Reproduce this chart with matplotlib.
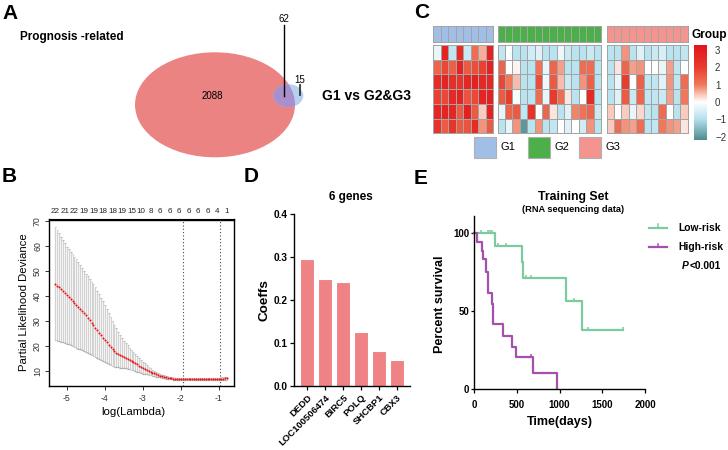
import numpy as np
import matplotlib
matplotlib.use('Agg')
import matplotlib.pyplot as plt
from matplotlib.patches import Ellipse, Rectangle
from matplotlib.colors import LinearSegmentedColormap, Normalize, ListedColormap
from matplotlib.path import Path
import matplotlib.cm as cm

plt.rcParams['font.family'] = ['Liberation Sans', 'DejaVu Sans']

# ---------------- data ----------------
# Panel A (Venn)
venn_set_names = ['Prognosis -related', 'G1 vs G2&G3']
venn_values = [2088, 62, 15]   # only prognosis, overlap, only G1 vs G2&G3

# Panel C (heatmap, 6 genes x samples per group)
group_names = ['G1', 'G2', 'G3']
group_colors = ['#a0bee6', '#4daf4a', '#f4948f']
g1_expr = [
    [-0.3, 2.8, -0.8, 2.5, -0.7, 1.2, 0.6, 2.8],
    [1.3, 1.8, 1.4, 2.8, 1.5, 1.7, 1.9, 2.8],
    [2.5, 2.8, 2.4, 2.3, 2.7, 2.9, 2.6, 2.7],
    [1.9, 1.8, 2.6, 2.8, 1.6, 1.8, 2.8, 2.9],
    [2.7, 2.8, 2.7, 1.5, 2.9, 1.5, 0.4, 2.8],
    [2.3, 1.5, 2.2, 1.5, 1.6, 2.5, 0.8, 1.5],
]
g2_expr = [
    [-0.8, 0.0, -0.9, -0.9, -0.6, -0.4, -0.9, -0.9, -0.2, -0.7, -0.9, -0.9, -0.7, -0.9],
    [1.3, 0.0, 0.1, -0.9, -0.9, 1.1, -0.3, 1.3, 0.7, -0.9, -0.9, 1.2, 1.2, -0.9],
    [1.8, 1.0, 0.5, -0.9, -0.9, 1.7, -0.2, 1.5, 0.5, -0.7, -0.9, 0.8, 1.4, -0.9],
    [1.5, 2.0, -0.1, -0.9, -0.9, 1.2, -0.3, 2.1, 1.2, 0.2, -0.9, 0.0, 2.6, -0.9],
    [-0.3, 1.3, 1.5, -0.8, 2.3, 0.0, 1.3, 0.2, -0.9, -0.4, 0.9, 1.1, 1.3, -0.7],
    [-0.9, -0.3, 0.8, -2.0, -0.9, 0.8, -0.9, -0.8, 0.0, -0.4, 0.0, -0.6, 0.8, -0.9],
]
g3_expr = [
    [-0.9, -0.9, 0.8, -0.9, -0.4, -0.9, -0.7, -0.5, -0.9, -0.9, -0.8],
    [-0.9, 0.2, 1.3, 0.7, 0.8, 0.0, 0.0, -0.3, 0.7, -0.8, 0.0],
    [-0.9, -0.3, 2.0, 0.0, 1.4, -0.8, -0.8, -0.4, 0.8, -0.8, 1.2],
    [-0.9, -0.4, 1.5, -0.7, 1.3, -0.8, -0.8, -0.7, 0.7, -0.9, 1.0],
    [0.4, 0.0, 0.4, -0.3, 0.3, -0.8, -0.9, 1.2, 0.0, -0.9, 0.4],
    [0.4, 1.2, 0.8, 0.7, 1.2, -0.9, -0.8, 1.0, 0.8, 0.7, 0.2],
]
colorbar_ticks = [-2, -1, 0, 1, 2, 3]

# Panel B (LASSO cross-validation)
log_lambda = [-5.30, -5.25, -5.20, -5.15, -5.10, -5.05, -5.00, -4.95, -4.90, -4.85,
              -4.80, -4.75, -4.70, -4.65, -4.60, -4.55, -4.50, -4.45, -4.40, -4.35,
              -4.30, -4.25, -4.20, -4.15, -4.10, -4.05, -4.00, -3.95, -3.90, -3.85,
              -3.80, -3.75, -3.70, -3.65, -3.60, -3.55, -3.50, -3.45, -3.40, -3.35,
              -3.30, -3.25, -3.20, -3.15, -3.10, -3.05, -3.00, -2.95, -2.90, -2.85,
              -2.80, -2.75, -2.70, -2.65, -2.60, -2.55, -2.50, -2.45, -2.40, -2.35,
              -2.30, -2.25, -2.20, -2.15, -2.10, -2.05, -2.00, -1.95, -1.90, -1.85,
              -1.80, -1.75, -1.70, -1.65, -1.60, -1.55, -1.50, -1.45, -1.40, -1.35,
              -1.30, -1.25, -1.20, -1.15, -1.10, -1.05, -1.00, -0.95, -0.90, -0.85,
              -0.80]
cv_mean = [45.0, 44.2, 43.5, 42.7, 42.0, 41.2, 40.4, 39.6, 38.8, 38.0,
           37.2, 36.4, 35.6, 34.8, 34.0, 33.2, 32.4, 31.4, 30.4, 29.4,
           28.4, 27.4, 26.4, 25.4, 24.4, 23.4, 22.4, 21.5, 20.6, 19.7,
           18.8, 18.0, 17.4, 16.9, 16.4, 16.0, 15.7, 15.3, 14.9, 14.5,
           14.1, 13.7, 13.2, 12.7, 12.2, 11.8, 11.3, 10.9, 10.5, 10.1,
           9.7, 9.4, 9.1, 8.8, 8.5, 8.2, 7.9, 7.7, 7.5, 7.35,
           7.2, 7.1, 7.0, 6.95, 6.9, 6.85, 6.8, 6.8, 6.75, 6.75,
           6.7, 6.7, 6.7, 6.7, 6.7, 6.7, 6.7, 6.7, 6.75, 6.75,
           6.8, 6.8, 6.8, 6.85, 6.85, 6.9, 6.9, 6.95, 7.0, 7.1,
           7.2]
cv_upper = [67.7, 66.3, 65.0, 63.7, 62.4, 61.0, 59.7, 58.7, 57.7, 56.7,
            55.7, 54.7, 53.7, 52.5, 51.3, 50.1, 49.0, 48.0, 46.9, 45.8,
            44.8, 43.7, 42.2, 40.8, 39.3, 37.9, 36.4, 34.8, 33.2, 31.6,
            30.0, 28.4, 27.1, 25.8, 24.6, 23.3, 22.0, 21.1, 20.3, 19.4,
            18.6, 17.7, 16.9, 16.1, 15.3, 14.5, 13.7, 13.1, 12.4, 11.8,
            11.1, 10.5, 10.1, 9.7, 9.4, 9.0, 8.6, 8.4, 8.2, 8.0,
            7.8, 7.6, 7.5, 7.4, 7.3, 7.25, 7.2, 7.2, 7.2, 7.2,
            7.2, 7.2, 7.2, 7.2, 7.2, 7.2, 7.2, 7.2, 7.25, 7.25,
            7.3, 7.3, 7.3, 7.3, 7.35, 7.35, 7.4, 7.5, 7.6, 7.7,
            7.8]
cv_lower = [22.4, 22.2, 21.9, 21.7, 21.5, 21.2, 21.0, 20.7, 20.3, 20.0,
            19.7, 19.4, 19.0, 18.7, 18.4, 18.0, 17.7, 17.3, 16.9, 16.5,
            16.1, 15.7, 15.3, 14.9, 14.5, 14.1, 13.7, 13.3, 12.9, 12.5,
            12.1, 11.7, 11.6, 11.5, 11.4, 11.35, 11.3, 11.1, 10.95, 10.8,
            10.6, 10.4, 10.1, 9.8, 9.55, 9.3, 9.0, 8.85, 8.7, 8.5,
            8.35, 8.2, 8.0, 7.8, 7.6, 7.45, 7.3, 7.2, 7.0, 6.9,
            6.8, 6.7, 6.6, 6.55, 6.5, 6.45, 6.4, 6.4, 6.4, 6.4,
            6.4, 6.4, 6.4, 6.4, 6.4, 6.4, 6.4, 6.4, 6.4, 6.4,
            6.4, 6.4, 6.4, 6.4, 6.4, 6.4, 6.4, 6.45, 6.5, 6.55,
            6.6]
df_positions = [-5.30, -5.05, -4.80, -4.55, -4.30, -4.05, -3.80, -3.55, -3.30, -3.05,
                -2.80, -2.55, -2.30, -2.05, -1.80, -1.55, -1.30, -1.05, -0.80]
df_labels = [22, 21, 22, 19, 19, 18, 18, 19, 15, 10, 8, 6, 6, 6, 6, 6, 6, 4, 1]
lambda_min = -1.94
lambda_1se = -0.97

# Panel D
genes = ['DEDD', 'LOC100506474', 'BIRC5', 'POLQ', 'SHCBP1', 'CBX3']
coeffs = [0.295, 0.249, 0.243, 0.127, 0.082, 0.061]

# Panel E (Kaplan-Meier)
low_t = [0, 246, 559, 570, 1078, 1269, 1746]
low_s = [100, 91.7, 81.6, 71.4, 56.7, 37.9, 37.9]
low_cens_t = [82, 168, 187, 215, 278, 371, 609, 668, 1164, 1328, 1746]
low_cens_s = [100, 100, 100, 100, 91.7, 91.7, 71.4, 71.4, 56.7, 37.9, 37.9]
high_t = [0, 39, 88, 100, 141, 160, 207, 226, 344, 442, 489, 688, 976]
high_s = [100, 94.4, 88.9, 83.3, 75.3, 61.4, 54.6, 41.6, 34.3, 27.3, 20.5, 10.6, 0]
high_cens_t = [110, 668]
high_cens_s = [83.3, 20.5]
risk_labels = ['Low-risk', 'High-risk']
risk_colors = ['#7acb9f', '#a451ad']

# ---------------- figure ----------------
W, H = 728, 450
fig = plt.figure(figsize=(W / 100, H / 100), dpi=100)


def box(l, t, r, b):
    return [l / W, 1 - b / H, (r - l) / W, (b - t) / H]


def ftext(x, y, s, **kw):
    return fig.text(x / W, 1 - y / H, s, **kw)


ov = fig.add_axes([0, 0, 1, 1])
ov.set_xlim(0, W)
ov.set_ylim(H, 0)
ov.axis('off')

# panel letters
for lab, x, y in [('A', 2, 13.5), ('B', 2, 176), ('C', 414, 13), ('D', 244, 176), ('E', 414, 179)]:
    ftext(x, y, lab, fontsize=15, fontweight='bold', ha='left', va='center')

# ---------------- Panel A ----------------
big = Ellipse((215, 104.8), 160, 105, facecolor='#ec8383', edgecolor='none')
ov.add_patch(big)
small = Ellipse((288.3, 95.7), 30, 23, facecolor='#b8d0f0', edgecolor='none')
ov.add_patch(small)
inter = Ellipse((288.3, 95.7), 30, 23, facecolor='#a790cb', edgecolor='none')
ov.add_patch(inter)
inter.set_clip_path(big)
ov.text(212, 96, str(venn_values[0]), fontsize=7, ha='center', va='center')
ov.plot([284.3, 284.3], [25, 95.7], color='black', lw=1)
ov.text(284.3, 19, str(venn_values[1]), fontsize=7, ha='center', va='center')
ov.plot([300, 300], [85, 95], color='#333333', lw=1.3)
ov.text(300, 80, str(venn_values[2]), fontsize=7, ha='center', va='center')
ov.text(19.5, 37, venn_set_names[0], fontsize=8.5, fontweight='bold', ha='left', va='center')
ov.text(322, 96, venn_set_names[1], fontsize=10, fontweight='bold', ha='left', va='center')

# ---------------- Panel C ----------------
cmap_hm = LinearSegmentedColormap.from_list(
    'hm', [(0.0, '#4f8a8f'), (0.217, '#b2e0ee'), (0.40, '#ffffff'),
           (0.582, '#f0785a'), (0.765, '#e83c2d'), (1.0, '#e2141c')])
norm_hm = Normalize(vmin=-2.19, vmax=3.29)
edge_gray = '#a4a4a4'
blocks = [(g1_expr, 433.3, 493.3), (g2_expr, 497.7, 601.0), (g3_expr, 606.7, 687.7)]
for (data, l, r), gcol in zip(blocks, group_colors):
    arr = np.array(data)
    n = arr.shape[1]
    axh = fig.add_axes(box(l, 45, r, 133.3))
    m = axh.pcolormesh(arr, cmap=cmap_hm, norm=norm_hm, edgecolors=edge_gray, linewidth=0.5)
    m.set_clip_on(False)
    axh.set_xlim(0, n)
    axh.set_ylim(arr.shape[0], 0)
    axh.axis('off')
    axa = fig.add_axes(box(l, 26, r, 41.7))
    ma = axa.pcolormesh(np.zeros((1, n)), cmap=ListedColormap([gcol]), edgecolors=edge_gray, linewidth=0.5)
    ma.set_clip_on(False)
    axa.set_xlim(0, n)
    axa.set_ylim(1, 0)
    axa.axis('off')

cax = fig.add_axes(box(694.3, 45, 706.7, 140))
cb = fig.colorbar(cm.ScalarMappable(norm=norm_hm, cmap=cmap_hm), cax=cax)
cb.outline.set_visible(False)
cb.set_ticks(colorbar_ticks)
cb.set_ticklabels([('\u2212' + str(abs(t))) if t < 0 else str(t) for t in colorbar_ticks])
cax.tick_params(length=0, labelsize=7, pad=6, colors='#333333')
ftext(691, 35, 'Group', fontsize=8.6, fontweight='bold', ha='left', va='center')

for name, col, x0 in zip(group_names, group_colors, [474.3, 528.3, 579.3]):
    ov.add_patch(Rectangle((x0, 137), 21.5, 21, facecolor=col, edgecolor='#b0b0b0', lw=0.8))
    ov.text(x0 + 26, 147.5, name, fontsize=8, ha='left', va='center')

# ---------------- Panel B ----------------
axB = fig.add_axes(box(49, 219.5, 234, 385.5))
ll = np.array(log_lambda)
axB.vlines(ll, cv_lower, cv_upper, color='#d2d2d2', lw=0.9, zorder=1)
cap = 0.022
axB.hlines(cv_upper, ll - cap, ll + cap, color='#bcbcbc', lw=0.8, zorder=2)
axB.hlines(cv_lower, ll - cap, ll + cap, color='#a8a8a8', lw=0.9, zorder=2)
axB.scatter(ll, cv_mean, s=2.2, color='#ee1111', lw=0, zorder=3)
axB.axvline(lambda_min, ls=(0, (1, 2)), color='#444444', lw=0.8)
axB.axvline(lambda_1se, ls=(0, (1, 2)), color='#444444', lw=0.8)
axB.set_xlim(-5.47, -0.605)
axB.set_ylim(4.2, 70.6)
axB.set_xticks([-5, -4, -3, -2, -1])
axB.set_xticklabels(['-5', '-4', '-3', '-2', '-1'])
axB.set_yticks([10, 20, 30, 40, 50, 60, 70])
axB.set_yticklabels(['10', '20', '30', '40', '50', '60', '70'], rotation=90, va='center')
axB.tick_params(axis='both', length=3, width=0.7, labelsize=6.3, colors='#333333', pad=2)
axB.tick_params(axis='x', pad=3)
for sp in axB.spines.values():
    sp.set_linewidth(1.0)
secB = axB.secondary_xaxis('top')
secB.set_xticks(df_positions)
secB.set_xticklabels([str(d) for d in df_labels])
secB.tick_params(length=0, labelsize=5.8, pad=3, colors='#222222')
ftext(24, 302.5, 'Partial Likelihood Deviance', fontsize=8.2, rotation=90, ha='center', va='center')
ftext(133, 412, 'log(Lambda)', fontsize=8.2, ha='center', va='center')

# ---------------- Panel D ----------------
axD = fig.add_axes(box(293.5, 214.4, 410, 386))
xd = np.arange(len(genes))
axD.bar(xd, coeffs, width=0.78, color='#ef8285', edgecolor='white', linewidth=0.8)
axD.set_xlim(-0.78, 5.72)
axD.set_ylim(0, 0.4)
axD.set_yticks([0.0, 0.1, 0.2, 0.3, 0.4])
axD.set_yticklabels(['0.0', '0.1', '0.2', '0.3', '0.4'], fontweight='bold')
axD.set_xticks(xd)
axD.set_xticklabels(genes, rotation=45, ha='right', rotation_mode='anchor', fontweight='bold')
axD.tick_params(axis='y', length=3, width=0.9, labelsize=7.3, pad=1)
axD.tick_params(axis='x', length=3, width=0.9, labelsize=6.8, pad=2)
axD.spines['top'].set_visible(False)
axD.spines['right'].set_visible(False)
axD.spines['left'].set_linewidth(1.0)
axD.spines['bottom'].set_linewidth(1.0)
ftext(351, 197, '6 genes', fontsize=8.5, fontweight='bold', ha='center', va='center')
ftext(264, 300, 'Coeffs', fontsize=9.7, fontweight='bold', rotation=90, ha='center', va='center')

# ---------------- Panel E ----------------
axE = fig.add_axes(box(474, 216, 645, 389.3))
tick_up = Path([(0, 0), (0, 1)])
for t, s, ct, cs, col in [(low_t, low_s, low_cens_t, low_cens_s, risk_colors[0]),
                          (high_t, high_s, high_cens_t, high_cens_s, risk_colors[1])]:
    axE.step(t, s, where='post', color=col, lw=1.6, clip_on=False)
    axE.plot(ct, cs, linestyle='none', marker=tick_up, markersize=5, color=col,
             markeredgewidth=1.1, clip_on=False)
axE.set_xlim(0, 2000)
axE.set_ylim(0, 111)
axE.set_xticks([0, 500, 1000, 1500, 2000])
axE.set_yticks([0, 50, 100])
for lab in axE.get_xticklabels() + axE.get_yticklabels():
    lab.set_fontweight('bold')
axE.tick_params(axis='x', length=3, width=0.9, labelsize=7, pad=5)
axE.tick_params(axis='y', length=2.5, width=0.9, labelsize=7, pad=1)
axE.spines['top'].set_visible(False)
axE.spines['right'].set_visible(False)
axE.spines['left'].set_linewidth(1.0)
axE.spines['bottom'].set_linewidth(1.0)
ftext(573.5, 197, 'Training Set', fontsize=8.8, fontweight='bold', ha='center', va='center')
ftext(573.5, 210, '(RNA sequencing data)', fontsize=6.7, fontweight='bold', ha='center', va='center')
ftext(440, 304, 'Percent survival', fontsize=9.1, fontweight='bold', rotation=90, ha='center', va='center')
ftext(560, 422, 'Time(days)', fontsize=9, fontweight='bold', ha='center', va='center')

# legend for E
for lab, col, y in zip(risk_labels, risk_colors, [227.7, 247.3]):
    ov.plot([649, 667], [y, y], color=col, lw=1.6)
    ov.plot([658, 658], [y, y - 3.5], color=col, lw=1.1)
    ov.text(678, y, lab, fontsize=7.4, fontweight='bold', ha='left', va='center')
ov.text(682.3, 266, 'P', fontsize=7.4, fontweight='bold', fontstyle='italic', ha='left', va='center')
ov.text(689.2, 266, '<0.001', fontsize=7.4, fontweight='bold', ha='left', va='center')

fig.savefig('out.png', dpi=100)
